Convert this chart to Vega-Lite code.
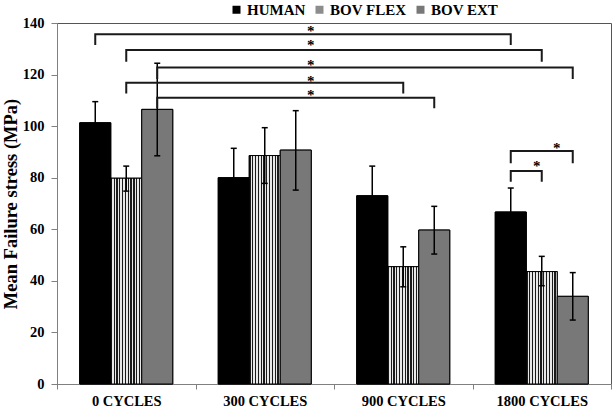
{
  "$schema": "https://vega.github.io/schema/vega-lite/v6.json",
  "width": 554,
  "height": 361,
  "autosize": "none",
  "padding": {"left": 57, "top": 23, "right": 5, "bottom": 28},
  "background": "white",
  "config": {
    "view": {"stroke": "#555555", "strokeWidth": 1},
    "font": "Times New Roman, Liberation Serif, serif"
  },
  "datasets": {
    "bars": [
      {"cycles": "0 CYCLES", "series": "HUMAN", "mean": 101.3, "lo": 93.1, "hi": 109.5},
      {"cycles": "0 CYCLES", "series": "BOV FLEX", "mean": 79.8, "lo": 74.8, "hi": 84.5},
      {"cycles": "0 CYCLES", "series": "BOV EXT", "mean": 106.5, "lo": 88.5, "hi": 124.4},
      {"cycles": "300 CYCLES", "series": "HUMAN", "mean": 80.0, "lo": 68.6, "hi": 91.4},
      {"cycles": "300 CYCLES", "series": "BOV FLEX", "mean": 88.6, "lo": 77.8, "hi": 99.4},
      {"cycles": "300 CYCLES", "series": "BOV EXT", "mean": 90.7, "lo": 75.2, "hi": 106.0},
      {"cycles": "900 CYCLES", "series": "HUMAN", "mean": 73.0, "lo": 61.5, "hi": 84.5},
      {"cycles": "900 CYCLES", "series": "BOV FLEX", "mean": 45.5, "lo": 37.7, "hi": 53.2},
      {"cycles": "900 CYCLES", "series": "BOV EXT", "mean": 59.7, "lo": 50.4, "hi": 68.9},
      {"cycles": "1800 CYCLES", "series": "HUMAN", "mean": 66.7, "lo": 57.4, "hi": 76.0},
      {"cycles": "1800 CYCLES", "series": "BOV FLEX", "mean": 43.6, "lo": 38.1, "hi": 49.5},
      {"cycles": "1800 CYCLES", "series": "BOV EXT", "mean": 34.0, "lo": 24.8, "hi": 43.2}
    ],
    "brackets": [
      {"id": "B1", "ord": 0, "cycles": "0 CYCLES", "series": "HUMAN", "y": 131.5},
      {"id": "B1", "ord": 1, "cycles": "0 CYCLES", "series": "HUMAN", "y": 135.6},
      {"id": "B1", "ord": 2, "cycles": "1800 CYCLES", "series": "HUMAN", "y": 135.6},
      {"id": "B1", "ord": 3, "cycles": "1800 CYCLES", "series": "HUMAN", "y": 131.5},
      {"id": "B2", "ord": 0, "cycles": "0 CYCLES", "series": "BOV FLEX", "y": 125.0},
      {"id": "B2", "ord": 1, "cycles": "0 CYCLES", "series": "BOV FLEX", "y": 129.5},
      {"id": "B2", "ord": 2, "cycles": "1800 CYCLES", "series": "BOV FLEX", "y": 129.5},
      {"id": "B2", "ord": 3, "cycles": "1800 CYCLES", "series": "BOV FLEX", "y": 125.0},
      {"id": "B3", "ord": 0, "cycles": "0 CYCLES", "series": "BOV EXT", "y": 118.3},
      {"id": "B3", "ord": 1, "cycles": "0 CYCLES", "series": "BOV EXT", "y": 122.7},
      {"id": "B3", "ord": 2, "cycles": "1800 CYCLES", "series": "BOV EXT", "y": 122.7},
      {"id": "B3", "ord": 3, "cycles": "1800 CYCLES", "series": "BOV EXT", "y": 118.3},
      {"id": "B4", "ord": 0, "cycles": "0 CYCLES", "series": "BOV FLEX", "y": 112.7},
      {"id": "B4", "ord": 1, "cycles": "0 CYCLES", "series": "BOV FLEX", "y": 116.8},
      {"id": "B4", "ord": 2, "cycles": "900 CYCLES", "series": "BOV FLEX", "y": 116.8},
      {"id": "B4", "ord": 3, "cycles": "900 CYCLES", "series": "BOV FLEX", "y": 112.7},
      {"id": "B5", "ord": 0, "cycles": "0 CYCLES", "series": "BOV EXT", "y": 106.9},
      {"id": "B5", "ord": 1, "cycles": "0 CYCLES", "series": "BOV EXT", "y": 111.0},
      {"id": "B5", "ord": 2, "cycles": "900 CYCLES", "series": "BOV EXT", "y": 111.0},
      {"id": "B5", "ord": 3, "cycles": "900 CYCLES", "series": "BOV EXT", "y": 106.9},
      {"id": "B6", "ord": 0, "cycles": "1800 CYCLES", "series": "HUMAN", "y": 85.6},
      {"id": "B6", "ord": 1, "cycles": "1800 CYCLES", "series": "HUMAN", "y": 90.4},
      {"id": "B6", "ord": 2, "cycles": "1800 CYCLES", "series": "BOV EXT", "y": 90.4},
      {"id": "B6", "ord": 3, "cycles": "1800 CYCLES", "series": "BOV EXT", "y": 85.6},
      {"id": "B7", "ord": 0, "cycles": "1800 CYCLES", "series": "HUMAN", "y": 78.4},
      {"id": "B7", "ord": 1, "cycles": "1800 CYCLES", "series": "HUMAN", "y": 82.6},
      {"id": "B7", "ord": 2, "cycles": "1800 CYCLES", "series": "BOV FLEX", "y": 82.6},
      {"id": "B7", "ord": 3, "cycles": "1800 CYCLES", "series": "BOV FLEX", "y": 78.4}
    ],
    "stars": [
      {"id": "B1", "cycles": "300 CYCLES", "series": "BOV EXT", "y": 137.7},
      {"id": "B2", "cycles": "300 CYCLES", "series": "BOV EXT", "y": 132.1},
      {"id": "B3", "cycles": "300 CYCLES", "series": "BOV EXT", "y": 124.4},
      {"id": "B4", "cycles": "300 CYCLES", "series": "BOV EXT", "y": 118.3},
      {"id": "B5", "cycles": "300 CYCLES", "series": "BOV EXT", "y": 112.7},
      {"id": "B6", "cycles": "1800 CYCLES", "series": "BOV FLEX", "y": 92.4},
      {"id": "B7", "cycles": "1800 CYCLES", "series": "HUMAN", "y": 85.3}
    ]
  },
  "encoding": {
    "x": {
      "field": "cycles",
      "type": "nominal",
      "scale": {"domain": ["0 CYCLES", "300 CYCLES", "900 CYCLES", "1800 CYCLES"], "paddingInner": 0, "paddingOuter": 0},
      "axis": {
        "title": null,
        "labelAngle": 0,
        "labelFont": "Times New Roman, Liberation Serif, serif",
        "labelFontWeight": "bold",
        "labelFontSize": 14.5,
        "labelColor": "#000000",
        "labelPadding": 5,
        "tickBand": "extent",
        "tickSize": 5,
        "tickColor": "#808080",
        "domainColor": "#808080",
        "grid": false
      }
    },
    "xOffset": {
      "field": "series",
      "type": "nominal",
      "scale": {"domain": ["HUMAN", "BOV FLEX", "BOV EXT"], "paddingInner": 0, "paddingOuter": 0.734}
    }
  },
  "layer": [
    {
      "data": {"name": "bars"},
      "mark": {"type": "bar", "stroke": "#000000", "strokeWidth": 1},
      "encoding": {
        "y": {
          "field": "mean",
          "type": "quantitative",
          "scale": {"domain": [0, 140], "nice": false},
          "axis": {
            "values": [0, 20, 40, 60, 80, 100, 120, 140],
            "title": "Mean Failure stress (MPa)",
            "titleFont": "Times New Roman, Liberation Serif, serif",
            "titleFontWeight": "bold",
            "titleFontSize": 18.5,
            "titleColor": "#000000",
            "titlePadding": 2,
            "labelFont": "Times New Roman, Liberation Serif, serif",
            "labelFontWeight": "bold",
            "labelFontSize": 14.5,
            "labelColor": "#000000",
            "labelPadding": 7,
            "tickSize": 6,
            "tickColor": "#808080",
            "domainColor": "#808080",
            "grid": false
          }
        },
        "color": {
          "field": "series",
          "type": "nominal",
          "scale": {"domain": ["HUMAN", "BOV FLEX", "BOV EXT"], "range": ["#000000", "#8c8c8c", "#787878"]},
          "legend": {
            "title": null,
            "orient": "none",
            "direction": "horizontal",
            "legendX": 172,
            "legendY": -21,
            "symbolType": "square",
            "symbolSize": 64,
            "symbolStrokeColor": "#000000",
            "symbolStrokeWidth": 1,
            "symbolOpacity": 1,
            "labelFont": "Times New Roman, Liberation Serif, serif",
            "labelFontWeight": "bold",
            "labelFontSize": 15,
            "labelColor": "#000000",
            "labelOffset": 3,
            "columnPadding": 6,
            "encode": {
              "symbols": {
                "update": {
                  "fill": [
                    {"test": "datum.value === 'BOV FLEX'", "value": {"gradient": "linear", "x1": 0, "y1": 0, "x2": 1, "y2": 0, "stops": [
                      {"offset": 0, "color": "#1a1a1a"}, {"offset": 0.14, "color": "#1a1a1a"}, {"offset": 0.14, "color": "#e8e8e8"}, {"offset": 0.33, "color": "#e8e8e8"},
                      {"offset": 0.33, "color": "#1a1a1a"}, {"offset": 0.47, "color": "#1a1a1a"}, {"offset": 0.47, "color": "#e8e8e8"}, {"offset": 0.66, "color": "#e8e8e8"},
                      {"offset": 0.66, "color": "#1a1a1a"}, {"offset": 0.8, "color": "#1a1a1a"}, {"offset": 0.8, "color": "#e8e8e8"}, {"offset": 1, "color": "#e8e8e8"}
                    ]}},
                    {"scale": "color", "field": "value"}
                  ],
                  "opacity": {"value": 1}
                }
              }
            }
          }
        }
      }
    },
    {
      "data": {"name": "bars"},
      "mark": {"type": "bar", "stroke": "#000000", "strokeWidth": 1},
      "encoding": {
        "y": {"field": "mean", "type": "quantitative"},
        "fill": {
          "condition": [
            {"test": "datum.series === 'HUMAN'", "value": "#000000"},
            {"test": "datum.series === 'BOV FLEX'", "value": {"gradient": "linear", "x1": 0, "y1": 0, "x2": 1, "y2": 0, "stops": [
                {"offset": 0, "color": "#1a1a1a"}, {"offset": 0.0409, "color": "#1a1a1a"}, {"offset": 0.0409, "color": "#e8e8e8"}, {"offset": 0.0909, "color": "#e8e8e8"},
                {"offset": 0.0909, "color": "#1a1a1a"}, {"offset": 0.1318, "color": "#1a1a1a"}, {"offset": 0.1318, "color": "#e8e8e8"}, {"offset": 0.1818, "color": "#e8e8e8"},
                {"offset": 0.1818, "color": "#1a1a1a"}, {"offset": 0.2227, "color": "#1a1a1a"}, {"offset": 0.2227, "color": "#e8e8e8"}, {"offset": 0.2727, "color": "#e8e8e8"},
                {"offset": 0.2727, "color": "#1a1a1a"}, {"offset": 0.3136, "color": "#1a1a1a"}, {"offset": 0.3136, "color": "#e8e8e8"}, {"offset": 0.3636, "color": "#e8e8e8"},
                {"offset": 0.3636, "color": "#1a1a1a"}, {"offset": 0.4045, "color": "#1a1a1a"}, {"offset": 0.4045, "color": "#e8e8e8"}, {"offset": 0.4545, "color": "#e8e8e8"},
                {"offset": 0.4545, "color": "#1a1a1a"}, {"offset": 0.4954, "color": "#1a1a1a"}, {"offset": 0.4954, "color": "#e8e8e8"}, {"offset": 0.5455, "color": "#e8e8e8"},
                {"offset": 0.5455, "color": "#1a1a1a"}, {"offset": 0.5864, "color": "#1a1a1a"}, {"offset": 0.5864, "color": "#e8e8e8"}, {"offset": 0.6364, "color": "#e8e8e8"},
                {"offset": 0.6364, "color": "#1a1a1a"}, {"offset": 0.6773, "color": "#1a1a1a"}, {"offset": 0.6773, "color": "#e8e8e8"}, {"offset": 0.7273, "color": "#e8e8e8"},
                {"offset": 0.7273, "color": "#1a1a1a"}, {"offset": 0.7682, "color": "#1a1a1a"}, {"offset": 0.7682, "color": "#e8e8e8"}, {"offset": 0.8182, "color": "#e8e8e8"},
                {"offset": 0.8182, "color": "#1a1a1a"}, {"offset": 0.8591, "color": "#1a1a1a"}, {"offset": 0.8591, "color": "#e8e8e8"}, {"offset": 0.9091, "color": "#e8e8e8"},
                {"offset": 0.9091, "color": "#1a1a1a"}, {"offset": 0.95, "color": "#1a1a1a"}, {"offset": 0.95, "color": "#e8e8e8"}, {"offset": 1, "color": "#e8e8e8"}
              ]}}
          ],
          "value": "#787878"
        }
      }
    },
    {
      "data": {"name": "bars"},
      "mark": {"type": "rule", "color": "#000000", "strokeWidth": 1.5},
      "encoding": {
        "y": {"field": "lo", "type": "quantitative"},
        "y2": {"field": "hi"}
      }
    },
    {
      "data": {"name": "bars"},
      "mark": {"type": "tick", "color": "#000000", "thickness": 1.5, "size": 6, "orient": "horizontal", "opacity": 1},
      "encoding": {
        "y": {"field": "hi", "type": "quantitative"}
      }
    },
    {
      "data": {"name": "bars"},
      "mark": {"type": "tick", "color": "#000000", "thickness": 1.5, "size": 6, "orient": "horizontal", "opacity": 1},
      "encoding": {
        "y": {"field": "lo", "type": "quantitative"}
      }
    },
    {
      "data": {"name": "brackets"},
      "mark": {"type": "line", "color": "#1a1a1a", "strokeWidth": 2},
      "encoding": {
        "y": {"field": "y", "type": "quantitative"},
        "detail": {"field": "id", "type": "nominal"},
        "order": {"field": "ord", "type": "quantitative"}
      }
    },
    {
      "data": {"name": "stars"},
      "transform": [{"filter": "datum.id !== 'B7'"}],
      "mark": {"type": "text", "text": "*", "font": "Times New Roman, Liberation Serif, serif", "fontWeight": "bold", "fontSize": 15, "baseline": "alphabetic", "dy": 7, "dx": 15, "color": "#000000"},
      "encoding": {
        "y": {"field": "y", "type": "quantitative"}
      }
    },
    {
      "data": {"name": "stars"},
      "transform": [{"filter": "datum.id === 'B7'"}],
      "mark": {"type": "text", "text": "*", "font": "Times New Roman, Liberation Serif, serif", "fontWeight": "bold", "fontSize": 15, "baseline": "alphabetic", "dy": 7, "dx": 26, "color": "#000000"},
      "encoding": {
        "y": {"field": "y", "type": "quantitative"}
      }
    }
  ]
}
